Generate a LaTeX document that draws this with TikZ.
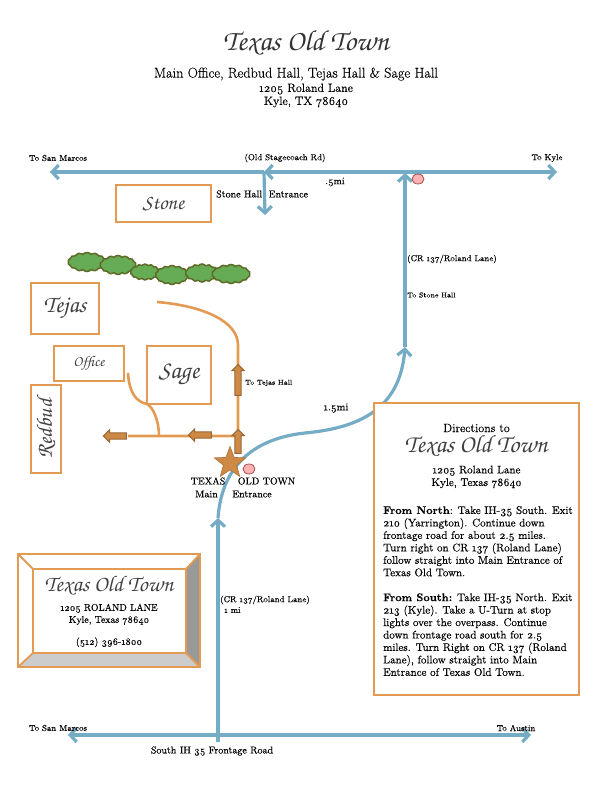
\documentclass[tikz,border=0pt]{standalone}
\usepackage[T1,TU]{fontenc}
\usepackage{fontspec}
\setmainfont{Latin Modern Roman}[Numbers=OldStyle,RawFeature={embolden=0.3}]
\usetikzlibrary{arrows.meta, calc, shapes.geometric, shapes.arrows, shapes.symbols}
\definecolor{roadblue}{HTML}{74ACC6}
\definecolor{walkorange}{HTML}{E39A52}
\definecolor{arrowbrown}{HTML}{CE8A45}
\definecolor{treegreen}{HTML}{66AC55}
\definecolor{treeline}{HTML}{5F6A28}
\newcommand{\scriptface}{\usefont{T1}{pzc}{mb}{it}}
\tikzset{
  barb/.tip={Straight Barb[length=6.5pt,width=14pt,line width=3.2pt]},
  road/.style={draw=roadblue,line width=3.2pt,-barb},
  walk/.style={draw=walkorange,line width=2.6pt},
  hall/.style={draw=walkorange,line width=1.8pt,fill=white,inner sep=0pt,text=black!75},
  lab/.style={font=\fontsize{8.6}{10}\selectfont,inner sep=0pt},
  big lab/.style={font=\fontsize{10}{11}\selectfont,inner sep=0pt},
  tiny lab/.style={font=\fontsize{7}{8}\selectfont,inner sep=0pt},
  blockarrow/.style={single arrow,draw=arrowbrown!75!black,fill=arrowbrown,line width=1pt,
    single arrow head extend=3pt,single arrow tip angle=90,inner xsep=0pt,inner ysep=2.6pt},
  tree/.style={cloud,cloud puffs=14,cloud puff arc=100,aspect=2,draw=treeline,fill=treegreen,line width=1.5pt,inner sep=0pt},
  sign/.style={ellipse,draw=red!50!black!70,fill=red!30!white,line width=0.8pt,minimum width=12pt,minimum height=10pt,inner sep=0pt}
}
\begin{document}
\begin{tikzpicture}[x=1pt,y=-1pt]
\useasboundingbox (0,0) rectangle (612,792);
% heading
\node[text=black!80,font=\scriptface\fontsize{29}{29}\selectfont] (title) at (306,43) {Texas Old Town};
\node[font=\fontsize{14.2}{15}\selectfont,inner sep=0pt] (halls) at (296,74) {Main Office, Redbud Hall, Tejas Hall \& Sage Hall};
\node[font=\fontsize{12}{13}\selectfont,align=center,inner sep=0pt] (addr) at (306,95.5) {1205 Roland Lane\\Kyle, TX 78640};
% road ends
\coordinate (stageW) at (50,172);
\coordinate (stageMid) at (264,172);
\coordinate (stageE) at (557,172);
\coordinate (stoneEnd) at (265,215);
\coordinate (cornerN) at (405,173);
\coordinate (cornerStart) at (407,172);
\coordinate (bendTop) at (405,347);
\coordinate (bendFoot) at (218,518);
\coordinate (frontW) at (68,735);
\coordinate (frontE) at (531,735);
\coordinate (frontMid) at (218,742);
\draw[road] (stageMid) -- (stageW);
\draw[road] (cornerStart) -- (stageMid);
\draw[road] (cornerStart) -- (stageE);
\draw[road] (stageMid) -- (stoneEnd);
\draw[road] (bendTop) -- (cornerN);
\draw[road] (bendFoot) .. controls (222,462) and (258,438) .. (305,433) .. controls (358,428) and (400,410) .. (bendTop);
\draw[road] (frontMid) -- (bendFoot);
\draw[road,barb-barb] (frontW) -- (frontE);
% walks
\coordinate (walkN) at (157,302);
\coordinate (walkBend) at (238,345);
\coordinate (walkFoot) at (238,436);
\coordinate (walkW) at (128,436);
\coordinate (branchTop) at (128,373);
\coordinate (branchMid) at (147,404);
\coordinate (branchFoot) at (159,436);
\draw[walk] (walkN) .. controls (205,306) and (238,322) .. (walkBend) -- (walkFoot) -- (walkW);
\draw[walk] (branchTop) .. controls (129,392) and (136,402) .. (branchMid) .. controls (154,408) and (159,422) .. (branchFoot);
% halls
\node[hall,minimum width=95pt,minimum height=37pt] (stone) at (163.5,203.5) {\scriptface\fontsize{21}{21}\selectfont Stone};
\node[hall,minimum width=68pt,minimum height=51pt] (tejas) at (65,308.5) {\scriptface\fontsize{24}{24}\selectfont Tejas};
\node[hall,minimum width=70pt,minimum height=35pt] (office) at (89,363.5) {\scriptface\fontsize{15}{15}\selectfont Office};
\node[hall,minimum width=64pt,minimum height=58pt] (sage) at (179,375) {\scriptface\fontsize{25}{25}\selectfont Sage};
\node[hall,minimum width=30pt,minimum height=88pt] (redbud) at (46,429) {};
\node[rotate=90,text=black!75,font=\scriptface\fontsize{22}{22}\selectfont] (redbudname) at (redbud) {Redbud};
% trees
\node[tree,minimum width=38pt,minimum height=19pt] (oakA) at (87,262) {};
\node[tree,minimum width=36pt,minimum height=19pt] (oakB) at (118,265) {};
\node[tree,minimum width=29pt,minimum height=16pt] (oakC) at (145,272) {};
\node[tree,minimum width=33pt,minimum height=19pt] (oakD) at (172,275) {};
\node[tree,minimum width=33pt,minimum height=18pt] (oakE) at (202,273) {};
\node[tree,minimum width=38pt,minimum height=19pt] (oakF) at (231,274) {};
% block arrows
\node[blockarrow,minimum height=31pt,rotate=90] (toTejas) at (238,381.5) {};
\node[blockarrow,minimum height=24pt,rotate=90] (toEntry) at (238,443) {};
\node[blockarrow,minimum height=23pt,rotate=180] (toSage) at (201.5,435) {};
\node[blockarrow,minimum height=23pt,rotate=180] (toRedbud) at (116.5,436) {};
\node[star,star points=5,star point ratio=2.4,draw=arrowbrown!85!black,fill=arrowbrown,line width=0.7pt,minimum size=33pt,inner sep=0pt] (entry) at (230,463) {};
\node[sign] (signS) at (249,469) {};
\node[sign] (signN) at (418,179) {};
% road labels
\node[lab] (sanN) at (58,158) {To San Marcos};
\node[lab] (stage) at (285,158) {(Old Stagecoach Rd)};
\node[lab] (kyle) at (547,158) {To Kyle};
\node[big lab] (half) at (335,182) {.5mi};
\node[big lab,anchor=west] (stoneEntry) at (216,194) {Stone Hall\ \ Entrance};
\node[lab,anchor=west] (crN) at (407,259) {(CR 137/Roland Lane)};
\node[tiny lab,anchor=west] (toStone) at (407,295) {To Stone Hall};
\node[tiny lab,anchor=west] (toTejasLab) at (245,383) {To Tejas Hall};
\node[lab,font=\fontsize{10.6}{12}\selectfont] (onehalf) at (336,408) {1.5mi};
\node[big lab] (txa) at (208,481) {TEXAS};
\node[big lab] (txb) at (266.5,481) {OLD TOWN};
\node[big lab] (mainA) at (206.5,494) {Main};
\node[big lab] (mainB) at (252,494) {Entrance};
\node[lab,anchor=west] (crS) at (220,600) {(CR 137/Roland Lane)};
\node[lab,anchor=west] (onemi) at (224,610) {1 mi};
\node[lab] (sanS) at (58,728) {To San Marcos};
\node[lab] (austin) at (516,728) {To Austin};
\node[big lab] (front) at (212,751) {South IH 35 Frontage Road};
% card
\coordinate (cardA) at (18,554);
\coordinate (cardB) at (200,554);
\coordinate (cardC) at (200,667);
\coordinate (cardD) at (18,667);
\coordinate (faceA) at (33,569);
\coordinate (faceB) at (186,569);
\coordinate (faceC) at (186,653);
\coordinate (faceD) at (33,653);
\fill[black!40] (faceB) -- (cardB) -- (cardC) -- (faceC) -- cycle;
\fill[black!20] (faceD) -- (faceC) -- (cardC) -- (cardD) -- cycle;
\draw[draw=walkorange,line width=1.8pt] (cardA) -- (cardB) -- (cardC) -- (cardD) -- cycle (faceA) -- (faceB) -- (faceC) -- (faceD) -- cycle
  (cardA) -- (faceA) (cardB) -- (faceB) (cardC) -- (faceC) (cardD) -- (faceD);
\node[text=black!75,font=\scriptface\fontsize{22.5}{22}\selectfont] (cardname) at (109,586) {Texas Old Town};
\node[font=\fontsize{9.8}{12}\selectfont,align=center,inner sep=0pt] (cardtext) at (109,625.5) {1205 ROLAND LANE\\Kyle, Texas 78640\\[10pt](512) 396-1800};
% directions
\node[draw=walkorange,line width=1.8pt,minimum width=205pt,minimum height=292pt,inner sep=0pt,fill=white] (dirbox) at (476.5,549) {};
\node[font=\fontsize{12}{13}\selectfont,inner sep=0pt] (dirhead) at (476.5,428) {Directions to};
\node[text=black!75,font=\scriptface\fontsize{25}{25}\selectfont] (dirname) at (476,446) {Texas Old Town};
\node[font=\fontsize{11}{12.6}\selectfont,align=center,inner sep=0pt] (diraddr) at (476.5,477) {1205 Roland Lane\\Kyle, Texas 78640};
\node[font=\fontsize{11}{12.45}\selectfont,align=left,inner sep=0pt,anchor=north west] (dirtext) at (383,506) {\textbf{From North}: Take IH-35 South. Exit\\210 (Yarrington). Continue down\\frontage road for about 2.5 miles.\\Turn right on CR 137 (Roland Lane)\\follow straight into Main Entrance of\\Texas Old Town.\\[12.45pt]\textbf{From South:} Take IH-35 North. Exit\\213 (Kyle). Take a U-Turn at stop\\lights over the overpass. Continue\\down frontage road south for 2.5\\miles. Turn Right on CR 137 (Roland\\Lane), follow straight into Main\\Entrance of Texas Old Town.};
\end{tikzpicture}
\end{document}
